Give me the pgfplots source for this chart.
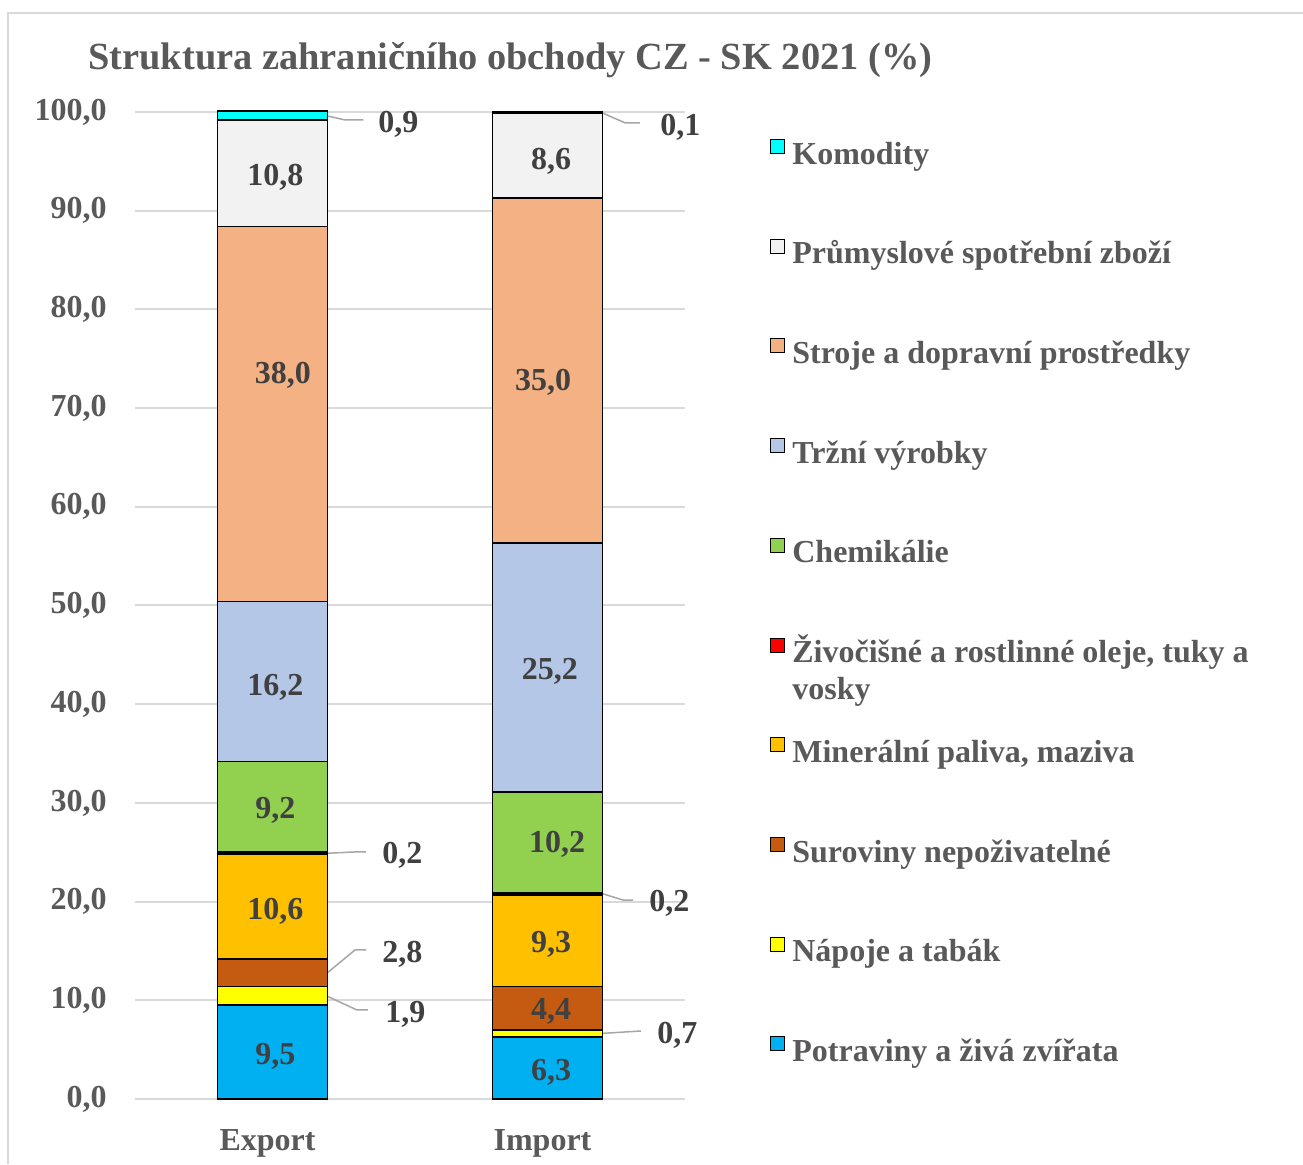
\documentclass[border=0pt]{standalone}
\usepackage{pgfplots}
\pgfplotsset{compat=1.18}
\usepackage{fontspec}
\setmainfont{Liberation Serif}
\definecolor{cPot}{HTML}{00B0F0}
\definecolor{cNap}{HTML}{FFFF00}
\definecolor{cSur}{HTML}{C55A11}
\definecolor{cMin}{HTML}{FFC000}
\definecolor{cOle}{HTML}{FF0000}
\definecolor{cChe}{HTML}{92D050}
\definecolor{cTrz}{HTML}{B4C7E7}
\definecolor{cStr}{HTML}{F4B183}
\definecolor{cPru}{HTML}{F2F2F2}
\definecolor{cKom}{HTML}{00FFFF}
\definecolor{txt}{HTML}{595959}
\definecolor{labc}{HTML}{404040}
\definecolor{grd}{HTML}{D9D9D9}
\definecolor{ldr}{HTML}{A6A6A6}
\newcommand\f{\fontsize{16}{18.5}\selectfont\bfseries}
\begin{document}
\begin{tikzpicture}
\useasboundingbox (0,0) rectangle (651.5pt,582pt);
\draw[grd, line width=0.8pt] (4pt,0) -- (4pt,575.5pt) -- (651.5pt,575.5pt);
\node[anchor=base west, inner sep=0pt, text=txt, font=\fontsize{19.2}{22}\selectfont\bfseries] at (44pt,547pt) {Struktura zahraničního obchody CZ - SK 2021 (\%)};
\tikzset{vl/.style={anchor=base, inner sep=0pt, font=\f, text=labc, yshift=-5.4pt},
         ol/.style={anchor=base west, inner sep=0pt, font=\f, text=labc, yshift=-5.4pt},
         ld/.style={ldr, line width=0.75pt}}
\begin{axis}[
  at={(67.5pt,32.5pt)}, anchor=south west,
  scale only axis, width=275pt, height=493.5pt,
  xmin=-0.5, xmax=1.5, ymin=0, ymax=100,
  clip=false,
  ybar stacked, bar width=55pt,
  xtick={0,1}, xticklabels={Export,Import},
  ytick={0,10,...,100},
  ymajorgrids, grid style={grd, line width=1pt},
  axis line style={draw=none}, major tick length=0pt,
  tick label style={font=\f, text=txt},
  yticklabel style={anchor=east, inner sep=0pt, xshift=-14pt},
  xticklabel style={anchor=base, inner sep=0pt, yshift=-25.5pt, xshift=-2.5pt},
  /pgf/number format/.cd, fixed, fixed zerofill, precision=1, use comma, 1000 sep={}, assume math mode=true,
  /pgfplots/.cd,
  every axis plot/.append style={draw=black, line width=0.9pt},
  reverse legend,
  legend image code/.code={\draw[#1, line width=0.5pt] (0pt,1.8pt) rectangle (7pt,8.8pt);},
  legend style={at={(rel axis cs:1.1545,0.973)}, anchor=north west, draw=none, fill=none, inner sep=0pt,
    row sep=33.3pt, column sep=3.5pt, font=\f, text=txt,
    nodes={inner sep=0pt, text height=11pt, text depth=4pt}},
  legend cell align=left,
]
\addplot[fill=cPot] coordinates {(0,9.5) (1,6.3)};
\addlegendentry{Potraviny a živá zvířata}
\addplot[fill=cNap] coordinates {(0,1.9) (1,0.7)};
\addlegendentry{Nápoje a tabák}
\addplot[fill=cSur] coordinates {(0,2.8) (1,4.4)};
\addlegendentry{Suroviny nepoživatelné}
\addplot[fill=cMin] coordinates {(0,10.6) (1,9.3)};
\addlegendentry{Minerální paliva, maziva}
\addplot[fill=cOle] coordinates {(0,0.2) (1,0.2)};
\addlegendentry{\begin{tabular}[t]{@{}l@{}}Živočišné a rostlinné oleje, tuky a\\vosky\end{tabular}}
\addplot[fill=cChe] coordinates {(0,9.2) (1,10.2)};
\addlegendentry{Chemikálie}
\addplot[fill=cTrz] coordinates {(0,16.2) (1,25.2)};
\addlegendentry{Tržní výrobky}
\addplot[fill=cStr] coordinates {(0,38.0) (1,35.0)};
\addlegendentry{Stroje a dopravní prostředky}
\addplot[fill=cPru] coordinates {(0,10.8) (1,8.6)};
\addlegendentry{Průmyslové spotřební zboží}
\addplot[fill=cKom] coordinates {(0,0.9) (1,0.1)};
\addlegendentry{Komodity}
\coordinate (e1) at (axis cs:0.01,93.6);
\coordinate (e2) at (axis cs:0.038,73.6);
\coordinate (e3) at (axis cs:0.01,42.0);
\coordinate (e4) at (axis cs:0.01,29.5);
\coordinate (e5) at (axis cs:0.01,19.25);
\coordinate (e6) at (axis cs:0.01,4.56);
\coordinate (i1) at (axis cs:1.013,95.3);
\coordinate (i2) at (axis cs:0.984,72.85);
\coordinate (i3) at (axis cs:1.009,43.6);
\coordinate (i4) at (axis cs:1.035,26.1);
\coordinate (i5) at (axis cs:1.013,15.9);
\coordinate (i6) at (axis cs:1.013,9.1);
\coordinate (i7) at (axis cs:1.013,2.94);
\draw[ld] (axis cs:0.2,99.6) -- (axis cs:0.264,99.19) -- (axis cs:0.33,99.19);
\node[ol] at (axis cs:0.3836,98.99) {0,9};
\draw[ld] (axis cs:0.2,24.9) -- (axis cs:0.30,25.03) -- (axis cs:0.34,25.03);
\node[ol] at (axis cs:0.398,24.92) {0,2};
\draw[ld] (axis cs:0.2,12.8) -- (axis cs:0.30,15.1) -- (axis cs:0.34,15.1);
\node[ol] at (axis cs:0.398,14.89) {2,8};
\draw[ld] (axis cs:0.2,10.4) -- (axis cs:0.307,9.02) -- (axis cs:0.347,9.02);
\node[ol] at (axis cs:0.409,8.81) {1,9};
\draw[ld] (axis cs:1.2,99.9) -- (axis cs:1.282,98.9) -- (axis cs:1.336,98.9);
\node[ol] at (axis cs:1.409,98.68) {0,1};
\draw[ld] (axis cs:1.2,20.8) -- (axis cs:1.2745,20.16) -- (axis cs:1.311,20.16);
\node[ol] at (axis cs:1.369,20.06) {0,2};
\draw[ld] (axis cs:1.2,6.65) -- (axis cs:1.34,6.89);
\node[ol] at (axis cs:1.398,6.69) {0,7};
\end{axis}
\node[vl] at (e1) {10,8};
\node[vl] at (e2) {38,0};
\node[vl] at (e3) {16,2};
\node[vl] at (e4) {9,2};
\node[vl] at (e5) {10,6};
\node[vl] at (e6) {9,5};
\node[vl] at (i1) {8,6};
\node[vl] at (i2) {35,0};
\node[vl] at (i3) {25,2};
\node[vl] at (i4) {10,2};
\node[vl] at (i5) {9,3};
\node[vl] at (i6) {4,4};
\node[vl] at (i7) {6,3};
\end{tikzpicture}
\end{document}
